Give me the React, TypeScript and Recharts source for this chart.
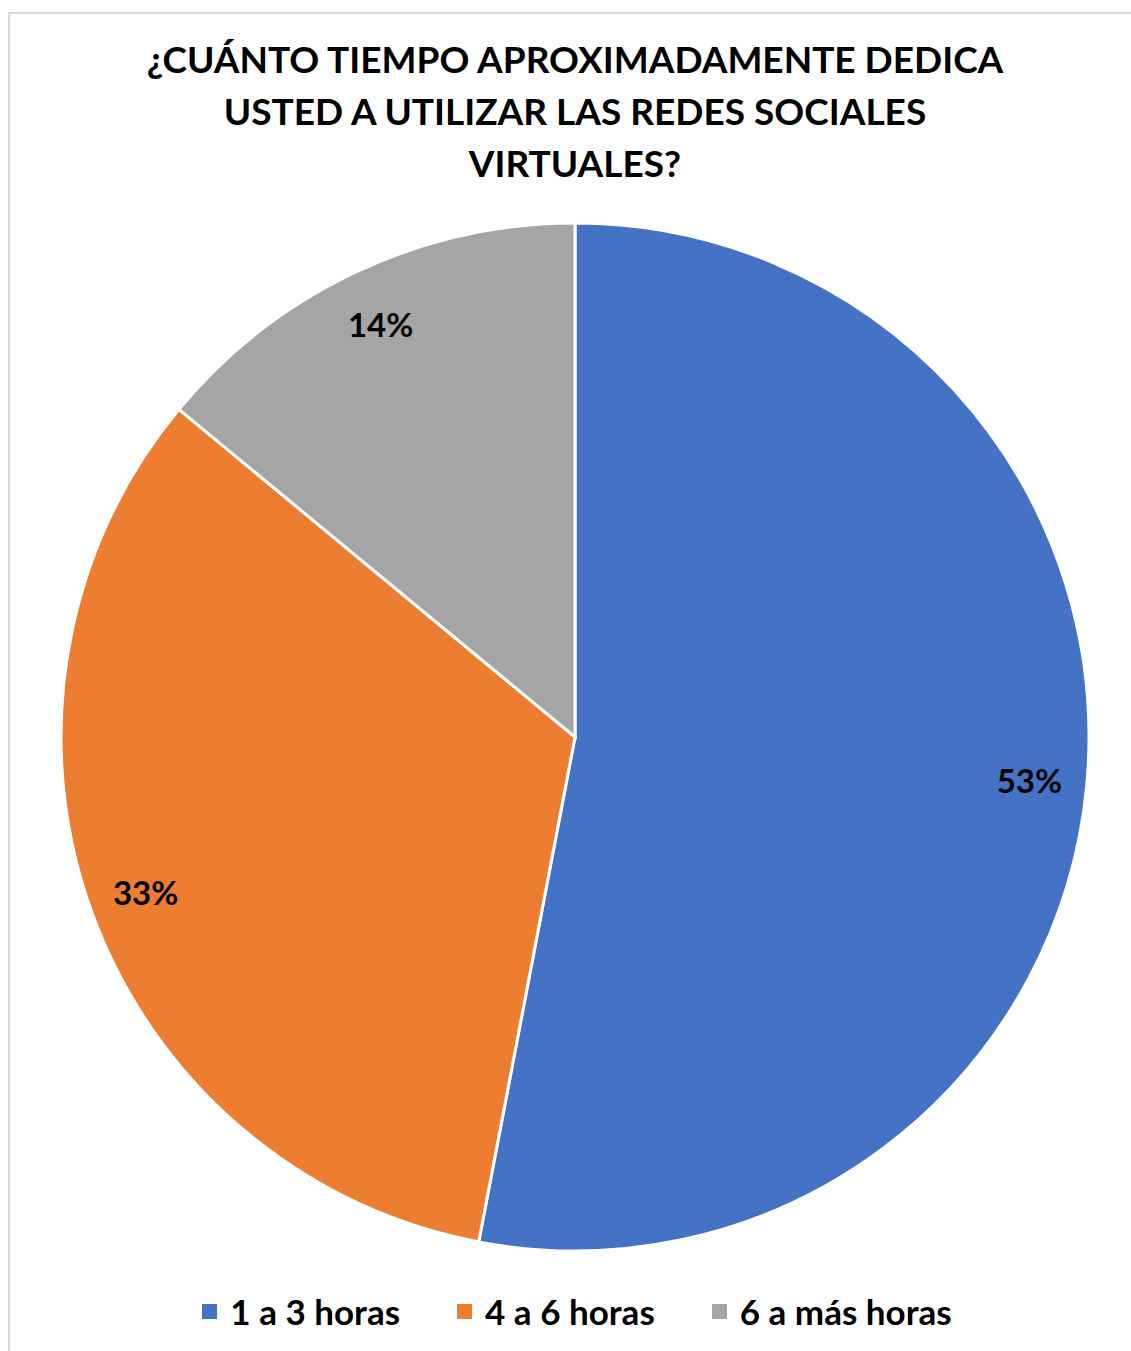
import React from "react";
import { PieChart, Pie, Cell, Legend } from "recharts";

const categories = ["1 a 3 horas", "4 a 6 horas", "6 a más horas"];
const shares = [53, 33, 14];
const colors = ["#4472C4", "#ED7D31", "#A5A5A5"];
const titleLines = [
  "¿CUÁNTO TIEMPO APROXIMADAMENTE DEDICA",
  "USTED A UTILIZAR LAS REDES SOCIALES",
  "VIRTUALES?",
];

const data = categories.map((name, i) => ({ name, value: shares[i] }));

const FONT = "Lato, 'Open Sans', sans-serif";
const RAD = Math.PI / 180;

function renderLabel(props: any) {
  const { cx, cy, midAngle, outerRadius, value } = props;
  const r = outerRadius * 0.888;
  const x = cx + r * Math.cos(-midAngle * RAD);
  const y = cy + r * Math.sin(-midAngle * RAD);
  return (
    <text
      x={x}
      y={y}
      textAnchor="middle"
      dominantBaseline="central"
      fontFamily={FONT}
      fontWeight={700}
      fontSize={33}
      fill="#000"
    >
      {`${value}%`}
    </text>
  );
}

function renderLegend() {
  return (
    <div style={{ display: "flex", justifyContent: "center", alignItems: "center", gap: 57 }}>
      {categories.map((c, i) => (
        <div key={c} style={{ display: "flex", alignItems: "center" }}>
          <span style={{ width: 15, height: 15, background: colors[i], marginRight: 13, display: "inline-block" }} />
          <span style={{ fontFamily: FONT, fontWeight: 700, fontSize: 35, color: "#000" }}>{c}</span>
        </div>
      ))}
    </div>
  );
}

export default function App() {
  return (
    <div style={{ position: "absolute", left: 0, top: 0, width: 1131, height: 1351, overflow: "hidden", background: "#fff" }}>
      <div
        style={{
          position: "absolute",
          left: 8,
          top: 12,
          width: 1130,
          height: 1345,
          borderTop: "2px solid #d9d9d9",
          borderLeft: "2px solid #d9d9d9",
          boxSizing: "border-box",
        }}
      />
      <div
        style={{
          position: "absolute",
          left: 0,
          top: 33,
          width: 1150,
          textAlign: "center",
          fontFamily: FONT,
          fontWeight: 700,
          fontSize: 37,
          lineHeight: "52px",
          color: "#000",
        }}
      >
        {titleLines.map((t) => (
          <div key={t}>{t}</div>
        ))}
      </div>
      <div style={{ position: "absolute", left: 0, top: 0 }}>
        <PieChart width={1131} height={1351} margin={{ top: 0, right: 0, bottom: 0, left: 0 }}>
          <Pie
            data={data}
            dataKey="value"
            nameKey="name"
            cx={575}
            cy={737}
            outerRadius={514}
            startAngle={90}
            endAngle={-270}
            stroke="#fff"
            strokeWidth={3}
            label={renderLabel}
            labelLine={false}
            isAnimationActive={false}
          >
            {data.map((d, i) => (
              <Cell key={d.name} fill={colors[i]} />
            ))}
          </Pie>
          <Legend
            content={renderLegend}
            wrapperStyle={{ position: "absolute", top: 1290, left: 0, width: 1154, height: 44 }}
          />
        </PieChart>
      </div>
    </div>
  );
}
